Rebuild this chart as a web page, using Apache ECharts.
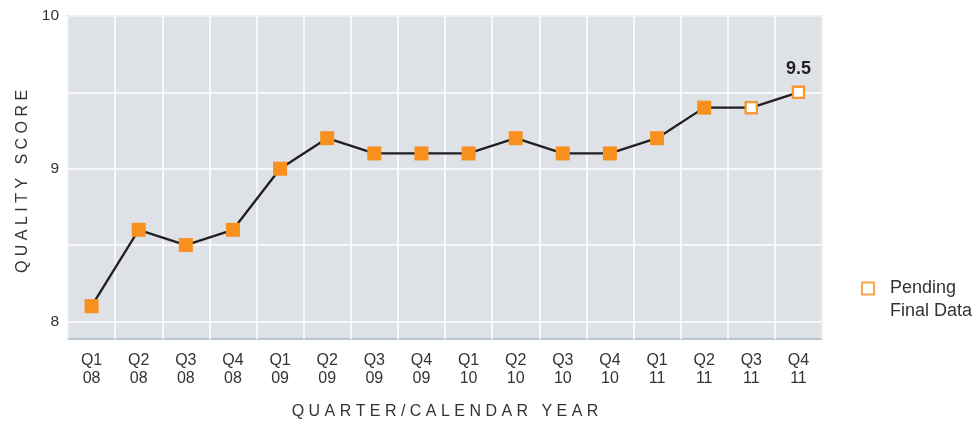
<!DOCTYPE html>
<html>
<head>
<meta charset="utf-8">
<script src="https://cdn.jsdelivr.net/npm/echarts@6/dist/echarts.min.js"></script>
<style>
html,body{margin:0;padding:0;background:#fff;}
#chart{width:976px;height:425px;}
</style>
</head>
<body>
<div id="chart"></div>
<script>
var categories = ['Q1\n08','Q2\n08','Q3\n08','Q4\n08','Q1\n09','Q2\n09','Q3\n09','Q4\n09','Q1\n10','Q2\n10','Q3\n10','Q4\n10','Q1\n11','Q2\n11','Q3\n11','Q4\n11'];
var scores = [8.1, 8.6, 8.5, 8.6, 9.0, 9.2, 9.1, 9.1, 9.1, 9.2, 9.1, 9.1, 9.2, 9.4, 9.4, 9.5];
var pending = [false,false,false,false,false,false,false,false,false,false,false,false,false,false,true,true];
var yTickLabels = [8, 9, 10];
var yGridValues = [8, 8.5, 9, 9.5, 10];
var labeledIndex = 15;

var ORANGE = '#f7901e';
var FONT = 'Liberation Sans, Arial, sans-serif';

function spaced(s){ return s.split('').join(' '); }

var lineData = scores.map(function(v, i){
  var item = {value: v};
  if (pending[i]) {
    item.symbolSize = 11;
    item.itemStyle = {color: '#ffffff', borderColor: ORANGE, borderWidth: 2.2};
  }
  if (i === labeledIndex) {
    item.label = {show: true, position: 'top', distance: 8, formatter: '{c}', fontSize: 18, fontWeight: 'bold', color: '#231f20', fontFamily: FONT};
  }
  return item;
});
var pendingData = scores.map(function(v, i){ return pending[i] ? v : '-'; });

var chart = echarts.init(document.getElementById('chart'), null, {renderer: 'canvas'});
chart.setOption({
  animation: false,
  backgroundColor: '#ffffff',
  textStyle: {fontFamily: FONT},
  grid: {left: 68, top: 16, right: 154, bottom: 83, show: true, backgroundColor: '#dee2e6', borderColor: '#a9b7c1', borderWidth: 1.5},
  legend: {
    left: 861, top: 254, padding: 0,
    itemWidth: 12, itemHeight: 12,
    icon: 'rect',
    selectedMode: false,
    data: [{name: 'Pending\nFinal Data', itemStyle: {color: '#ffffff', borderColor: ORANGE, borderWidth: 2}}],
    formatter: function(name){ return '\n' + name; },
    textStyle: {fontSize: 18, color: '#333', lineHeight: 23, padding: [0, 0, 0, 11], fontFamily: FONT}
  },
  xAxis: {
    type: 'category',
    data: categories,
    boundaryGap: true,
    axisLine: {show: false},
    axisTick: {show: false},
    axisLabel: {interval: 0, margin: 13, fontSize: 16, lineHeight: 17.5, color: '#333', fontFamily: FONT},
    splitLine: {show: true, interval: 0, lineStyle: {color: '#ffffff', width: 1.5}},
    name: spaced('QUARTER/CALENDAR') + '   ' + spaced('YEAR'),
    nameLocation: 'middle',
    nameGap: 65,
    nameTextStyle: {fontSize: 16, color: '#333', fontFamily: FONT}
  },
  yAxis: {
    type: 'value',
    min: 7.885,
    max: 10,
    axisLine: {show: false},
    axisTick: {show: false, customValues: yGridValues},
    axisLabel: {customValues: yTickLabels, margin: 9, fontSize: 15.5, color: '#333', fontFamily: FONT},
    splitLine: {show: true, lineStyle: {color: '#ffffff', width: 1.5}},
    name: spaced('QUALITY') + '   ' + spaced('SCORE'),
    nameLocation: 'middle',
    nameGap: 32,
    nameRotate: 90,
    nameTextStyle: {fontSize: 16, color: '#333', fontFamily: FONT, padding: [0, 8, 0, 0]}
  },
  series: [
    {
      name: 'Quality Score',
      type: 'line',
      data: lineData,
      symbol: 'rect',
      symbolSize: 14,
      itemStyle: {color: ORANGE},
      lineStyle: {color: '#231f20', width: 2.3},
      z: 3
    },
    {
      name: 'Pending\nFinal Data',
      type: 'scatter',
      data: pendingData,
      symbol: 'rect',
      symbolSize: 11,
      itemStyle: {color: '#ffffff', borderColor: ORANGE, borderWidth: 2.2},
      z: 4
    }
  ]
});
</script>
</body>
</html>
